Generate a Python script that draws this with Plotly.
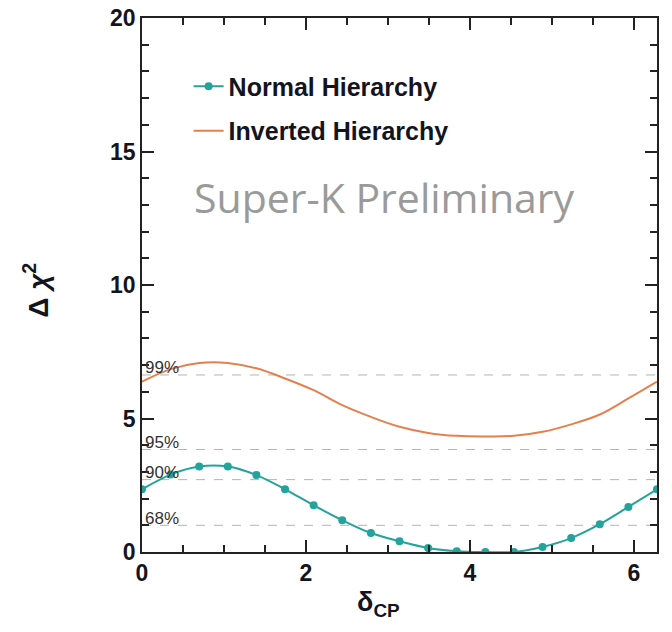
import plotly.graph_objects as go

# delta_CP grid (radians, 20-degree steps)
delta_cp = [0.0, 0.349, 0.698, 1.047, 1.396, 1.745, 2.094, 2.443, 2.793, 3.142,
            3.491, 3.840, 4.189, 4.538, 4.887, 5.236, 5.585, 5.934, 6.283]
nh_chi2 = [2.35, 2.90, 3.20, 3.20, 2.88, 2.35, 1.75, 1.19, 0.71, 0.40,
           0.15, 0.03, 0.0, 0.0, 0.19, 0.52, 1.04, 1.69, 2.35]
ih_chi2 = [6.38, 6.85, 7.08, 7.08, 6.88, 6.50, 6.06, 5.50, 5.06, 4.69,
           4.46, 4.35, 4.33, 4.35, 4.50, 4.78, 5.15, 5.75, 6.38]

cl_levels = [6.63, 3.84, 2.71, 1.0]
cl_labels = ["99%", "95%", "90%", "68%"]

x_ticks = [0, 2, 4, 6]
y_ticks = [0, 5, 10, 15, 20]

NH_COLOR = "#22a39b"
IH_COLOR = "#e4804e"
FONT = "Liberation Sans, Arial, Helvetica, sans-serif"
TXT = "#14141e"

fig = go.Figure()
fig.add_trace(go.Scatter(
    x=delta_cp, y=nh_chi2, mode="lines+markers", name="Normal Hierarchy",
    line=dict(color=NH_COLOR, width=2, shape="spline"),
    marker=dict(size=8, color=NH_COLOR), legendgroup="nh"))
fig.add_trace(go.Scatter(
    x=delta_cp, y=ih_chi2, mode="lines", name="Inverted Hierarchy",
    line=dict(color=IH_COLOR, width=2, shape="spline"), legendgroup="ih"))

for lvl, lab in zip(cl_levels, cl_labels):
    fig.add_shape(type="line", xref="paper", x0=0, x1=1, yref="y", y0=lvl, y1=lvl,
                  line=dict(color="#b4b4b4", width=1, dash="dash"), layer="below")
    fig.add_annotation(x=0, y=lvl, xref="x", yref="y", text=lab, showarrow=False,
                       xanchor="left", yanchor="middle", xshift=1, yshift=7,
                       font=dict(family=FONT, size=17, color="#333333"))

fig.add_annotation(x=0.47, y=0.665, xref="paper", yref="paper", text="Super-K Preliminary",
                   showarrow=False, xanchor="center", yanchor="middle",
                   font=dict(family="Open Sans, Noto Sans, sans-serif", size=41, color="#9a9a9a"))

# axis titles
fig.add_annotation(x=-0.205, y=0.49, xref="paper", yref="paper",
                   text="<b>Δ <i>χ</i><sup>2</sup></b>",
                   showarrow=False, textangle=-90, xanchor="center", yanchor="middle",
                   font=dict(family=FONT, size=28, color=TXT))
fig.add_annotation(x=0.459, y=-0.097, xref="paper", yref="paper", text="<b>δ<sub>CP</sub></b>",
                   showarrow=False, xanchor="center", yanchor="middle",
                   font=dict(family=FONT, size=27, color=TXT))

axis_common = dict(
    ticks="inside", tickwidth=1.5, tickcolor="#222", ticklen=12,
    showline=True, linewidth=1.5, linecolor="#222", mirror="allticks",
    showgrid=False, zeroline=False, automargin=False, ticklabeloverflow="allow",
    tickfont=dict(family=FONT, size=23, color=TXT, weight="bold"),
)
fig.update_xaxes(range=[0, 6.2832], tickvals=x_ticks,
                 minor=dict(dtick=0.5, ticks="inside", ticklen=7, tickwidth=1.5, tickcolor="#222"),
                 **axis_common)
fig.update_yaxes(range=[0, 20], tickvals=y_ticks,
                 minor=dict(dtick=1, ticks="inside", ticklen=7, tickwidth=1.5, tickcolor="#222"),
                 **axis_common)

# page body adds an 8px offset; compensate so the plot lands where the reference has it
fig.update_layout(
    width=664, height=624,
    margin=dict(l=134, r=15, t=10, b=80),
    paper_bgcolor="white", plot_bgcolor="white",
    showlegend=True,
    legend=dict(x=0.0905, y=0.915, xanchor="left", yanchor="top",
                bgcolor="rgba(0,0,0,0)", tracegroupgap=9, itemwidth=30,
                font=dict(family=FONT, size=25, color=TXT, weight="bold")),
)

fig.write_html("out.html")
